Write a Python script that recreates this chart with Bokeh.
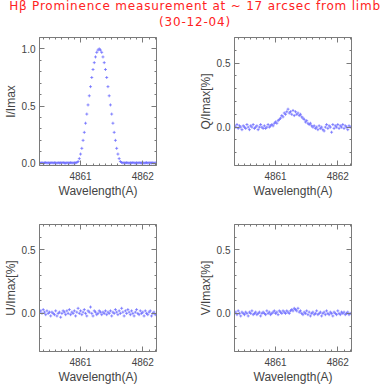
from bokeh.plotting import figure
from bokeh.layouts import column, row
from bokeh.models import (Div, LinearAxis, Range1d, SingleIntervalTicker,
                          PrintfTickFormatter, CustomJSTickFormatter)
from bokeh.embed import file_html
from bokeh.resources import INLINE

# ---------------- data ----------------
wavelength = [
    4860.34, 4860.36, 4860.38, 4860.40, 4860.42, 4860.44, 4860.46, 4860.48, 4860.50, 4860.52,
    4860.54, 4860.56, 4860.58, 4860.60, 4860.62, 4860.64, 4860.66, 4860.68, 4860.70, 4860.72,
    4860.74, 4860.76, 4860.78, 4860.80, 4860.82, 4860.84, 4860.86, 4860.88, 4860.90, 4860.92,
    4860.94, 4860.96, 4860.98, 4861.00, 4861.02, 4861.04, 4861.06, 4861.08, 4861.10, 4861.12,
    4861.14, 4861.16, 4861.18, 4861.20, 4861.22, 4861.24, 4861.26, 4861.28, 4861.30, 4861.32,
    4861.34, 4861.36, 4861.38, 4861.40, 4861.42, 4861.44, 4861.46, 4861.48, 4861.50, 4861.52,
    4861.54, 4861.56, 4861.58, 4861.60, 4861.62, 4861.64, 4861.66, 4861.68, 4861.70, 4861.72,
    4861.74, 4861.76, 4861.78, 4861.80, 4861.82, 4861.84, 4861.86, 4861.88, 4861.90, 4861.92,
    4861.94, 4861.96, 4861.98, 4862.00, 4862.02, 4862.04, 4862.06, 4862.08, 4862.10, 4862.12,
    4862.14, 4862.16, 4862.18, 4862.20,
]

stokes_I = [
    0.004, 0.002, 0.005, 0.001, 0.003, 0.006, 0.002, 0.004, 0.001, 0.003,
    0.005, 0.002, 0.004, 0.003, 0.001, 0.005, 0.002, 0.004, 0.003, 0.006,
    0.002, 0.001, 0.004, 0.003, 0.002, 0.005, 0.003, 0.002, 0.004, 0.003,
    0.006, 0.015, 0.04, 0.08, 0.13, 0.20, 0.27, 0.35, 0.43, 0.51,
    0.59, 0.67, 0.75, 0.82, 0.88, 0.93, 0.97, 0.99, 1.00, 0.99,
    0.97, 0.93, 0.88, 0.82, 0.75, 0.67, 0.59, 0.51, 0.43, 0.35,
    0.27, 0.20, 0.13, 0.08, 0.04, 0.015, 0.006, 0.003, 0.004, 0.002,
    0.005, 0.003, 0.001, 0.004, 0.002, 0.006, 0.003, 0.001, 0.004, 0.002,
    0.005, 0.003, 0.002, 0.004, 0.001, 0.003, 0.005, 0.002, 0.004, 0.003,
    0.002, 0.004, 0.001, 0.003,
]

stokes_Q = [
    0.01, 0.00, 0.02, -0.01, 0.01, 0.00, -0.02, 0.01, 0.00, -0.01,
    0.02, 0.00, -0.02, 0.01, 0.00, 0.02, -0.01, 0.00, 0.01, -0.02,
    0.00, 0.02, 0.00, -0.01, 0.01, -0.01, 0.00, 0.02, 0.00, 0.01,
    0.02, 0.01, 0.03, 0.04, 0.03, 0.05, 0.06, 0.07, 0.09, 0.08,
    0.11, 0.10, 0.12, 0.14, 0.11, 0.12, 0.10, 0.13, 0.09, 0.12,
    0.10, 0.11, 0.09, 0.10, 0.08, 0.07, 0.06, 0.04, 0.05, 0.03,
    0.02, 0.03, 0.01, 0.00, 0.01, -0.01, 0.00, -0.02, 0.01, -0.01,
    0.00, -0.02, -0.03, 0.00, 0.02, -0.01, 0.01, 0.00, -0.04, 0.02,
    -0.01, 0.01, 0.00, 0.02, -0.01, 0.01, 0.00, 0.02, -0.01, 0.01,
    0.00, -0.02, 0.01, 0.00,
]

stokes_U = [
    0.01, 0.02, 0.00, 0.03, 0.01, -0.01, 0.02, 0.00, 0.01, -0.02,
    0.01, 0.00, -0.01, 0.02, -0.02, 0.00, 0.01, -0.03, 0.00, 0.02,
    0.01, -0.01, 0.02, 0.00, 0.03, -0.01, 0.01, 0.00, 0.02, -0.02,
    0.01, 0.04, 0.00, 0.02, -0.01, 0.01, 0.03, 0.00, -0.02, 0.02,
    0.01, 0.05, 0.00, -0.02, 0.02, 0.01, -0.01, 0.00, 0.02, 0.01,
    -0.01, 0.01, 0.00, 0.02, -0.01, 0.01, 0.00, 0.02, -0.02, 0.01,
    0.00, 0.03, 0.01, -0.01, 0.02, 0.00, 0.04, 0.01, -0.02, 0.02,
    0.00, 0.03, 0.01, -0.01, 0.02, 0.00, -0.02, 0.01, 0.03, 0.00,
    -0.01, 0.02, 0.00, 0.01, -0.02, 0.02, 0.00, -0.01, 0.01, 0.02,
    -0.02, 0.00, 0.01, -0.01,
]

stokes_V = [
    0.00, 0.01, -0.01, 0.02, 0.00, -0.02, 0.01, 0.00, -0.01, 0.01,
    0.00, -0.02, 0.01, 0.00, 0.02, -0.01, 0.00, 0.01, -0.01, 0.00,
    0.01, -0.02, 0.00, 0.01, 0.00, -0.01, 0.02, 0.00, 0.01, -0.01,
    0.00, 0.01, 0.02, 0.00, 0.01, -0.01, 0.02, 0.01, 0.00, 0.02,
    0.01, 0.00, 0.02, 0.01, 0.00, 0.02, 0.03, 0.02, 0.04, 0.03,
    0.02, 0.04, 0.01, 0.02, 0.00, -0.01, 0.01, 0.00, 0.02, -0.01,
    0.01, -0.02, 0.00, 0.01, -0.01, 0.00, 0.02, -0.01, 0.00, 0.01,
    -0.02, 0.00, 0.01, -0.01, 0.02, 0.00, -0.01, 0.01, 0.00, -0.02,
    0.01, 0.00, -0.01, 0.02, 0.00, -0.01, 0.01, 0.00, 0.01, -0.01,
    0.00, 0.01, -0.01, 0.00,
]

x_limits = (4860.34, 4862.22)
i_limits = (-0.02, 1.1)
pol_limits = (-0.3, 0.7)

title_line1 = "H\u03b2 Prominence measurement at ~ 17 arcsec from limb"
title_line2 = "(30-12-04)"
x_label = "Wavelength(A)"

# ---------------- styling ----------------
FONT = "Liberation Sans"
TEXT_COL = "#444444"
FRAME_COL = "#7a7a7a"
PT_COL = "#6a6aff"


def style_axis(ax, show_labels):
    ax.major_tick_in = 5
    ax.major_tick_out = 0
    ax.minor_tick_in = 2
    ax.minor_tick_out = 0
    ax.major_tick_line_color = FRAME_COL
    ax.minor_tick_line_color = FRAME_COL
    ax.axis_line_color = FRAME_COL
    ax.major_label_text_font = FONT
    ax.major_label_text_color = TEXT_COL
    ax.axis_label_text_font = FONT
    ax.axis_label_text_color = TEXT_COL
    ax.axis_label_text_font_style = "normal"
    ax.major_label_text_font_size = "10px"
    ax.axis_label_text_font_size = "12px"
    if not show_labels:
        ax.formatter = CustomJSTickFormatter(code="return '';")
        ax.major_label_standoff = 0
        ax.axis_line_color = None


def panel(yvals, ylabel, ylim, top_border, bottom_border, fh):
    p = figure(
        frame_width=117, frame_height=fh,
        min_border_left=34, min_border_right=39,
        min_border_top=top_border, min_border_bottom=bottom_border,
        x_range=Range1d(*x_limits), y_range=Range1d(*ylim),
        output_backend="svg", toolbar_location=None,
    )
    p.xgrid.visible = False
    p.ygrid.visible = False
    p.outline_line_color = FRAME_COL
    p.background_fill_color = "white"
    p.border_fill_color = "white"

    p.xaxis.ticker = SingleIntervalTicker(interval=1, num_minor_ticks=10)
    p.yaxis.ticker = SingleIntervalTicker(interval=0.5, num_minor_ticks=5)
    p.yaxis.formatter = PrintfTickFormatter(format="%.1f")
    p.xaxis.axis_label = x_label
    p.yaxis.axis_label = ylabel
    style_axis(p.xaxis[0], True)
    style_axis(p.yaxis[0], True)
    p.xaxis.major_label_standoff = 6
    p.xaxis.axis_label_standoff = 1
    p.yaxis.major_label_standoff = 4
    p.yaxis.axis_label_standoff = 1

    top = LinearAxis(ticker=SingleIntervalTicker(interval=1, num_minor_ticks=10))
    right = LinearAxis(ticker=SingleIntervalTicker(interval=0.5, num_minor_ticks=5))
    style_axis(top, False)
    style_axis(right, False)
    p.add_layout(top, "above")
    p.add_layout(right, "right")

    p.scatter(wavelength, yvals, marker="cross", size=3, line_color=PT_COL,
              line_alpha=0.75, line_width=1)
    return p


p1 = panel(stokes_I, "I/Imax", i_limits, 8, 51, 128)
p2 = panel(stokes_Q, "Q/Imax[%]", pol_limits, 8, 51, 128)
p3 = panel(stokes_U, "U/Imax[%]", pol_limits, 8, 33, 127)
p4 = panel(stokes_V, "V/Imax[%]", pol_limits, 8, 33, 127)

title = Div(
    text=(
        '<div style="width:380px;text-align:center;color:#ff2222;'
        'font-family:\'DejaVu Sans\';font-size:12px;line-height:16px;'
        'letter-spacing:0.8px;white-space:nowrap">'
        + title_line1 + "<br>" + title_line2 + "</div>"
    ),
    width=380, height=26,
)

layout = column(title, row(p1, p2), row(p3, p4), styles={"margin-top": "-7px"})

with open("out.html", "w") as f:
    f.write(file_html(layout, INLINE))
